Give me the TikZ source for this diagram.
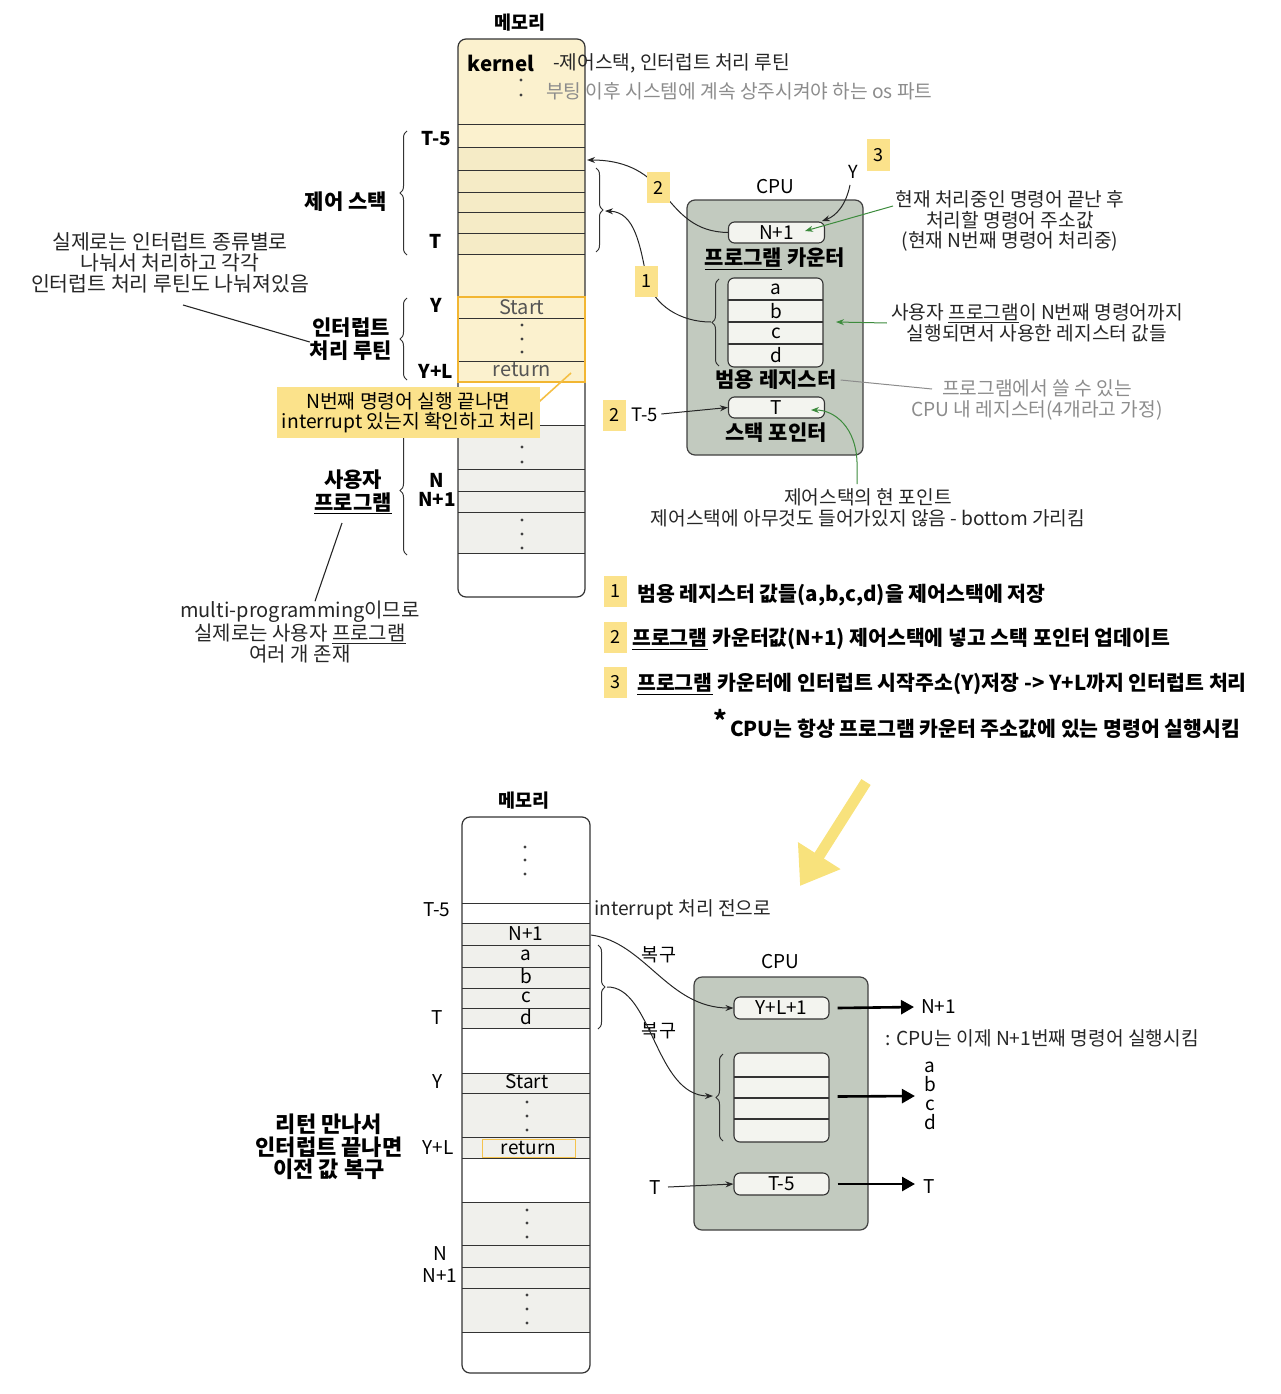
\documentclass[tikz,border=0pt]{standalone}
\usepackage{fontspec}
\setmainfont{Noto Sans CJK KR}
\usetikzlibrary{arrows.meta,decorations.pathreplacing,calc}
\definecolor{kern}{HTML}{FBF1CE}
\definecolor{kstk}{HTML}{F5EBC6}
\definecolor{ugray}{HTML}{F0F0EC}
\definecolor{cpufill}{HTML}{C2CABF}
\definecolor{boxfill}{HTML}{F3F4EF}
\definecolor{ylab}{HTML}{FBE28B}
\definecolor{orng}{HTML}{F2B632}
\definecolor{grn}{HTML}{3C8B3C}
\definecolor{gtxt}{HTML}{8C8C8C}
\definecolor{bigy}{HTML}{F8E27C}
\definecolor{dtxt}{HTML}{555555}
\begin{document}
\begin{tikzpicture}[x=1pt,y=-1pt,
  every node/.style={inner sep=0pt},
  lab/.style={font=\fontsize{19}{21}\selectfont\bfseries},
  lbl/.style={font=\fontsize{19}{21}\selectfont},
  head/.style={font=\fontsize{21}{23}\selectfont\bfseries, align=center},
  ann/.style={font=\fontsize{19.2}{20.8}\selectfont, align=center, text=black!85},
  gann/.style={ann, text=gtxt},
  stp/.style={font=\fontsize{20.5}{22}\selectfont\bfseries, anchor=west},
  numbox/.style={fill=ylab, minimum width=23pt, minimum height=31pt, font=\fontsize{18}{20}\selectfont},
  regbox/.style={draw=black!80, line width=1.1pt, fill=boxfill, rounded corners=6pt, minimum width=96pt, minimum height=21pt, font=\fontsize{19}{21}\selectfont},
  cpubox/.style={draw=black!75, line width=1.2pt, fill=cpufill, rounded corners=8pt},
  arr/.style={-{Stealth[length=8pt,width=6pt]}, line width=1pt, black!85},
  garr/.style={-{Stealth[length=8pt,width=6pt]}, line width=1pt, grn},
  fat/.style={-{Triangle[length=13pt,width=14pt]}, line width=2.6pt},
  brc/.style={decorate, decoration={brace, amplitude=7pt}, line width=1pt, black!80},
  mline/.style={line width=1pt, black!80},
  dot/.style={circle, fill=black!75, minimum size=3.4pt},
]
\useasboundingbox (0,0) rectangle (1280,1394);

%================ TOP MEMORY =================
\node[font=\fontsize{18.5}{20}\selectfont\bfseries] (mem1) at (520,23) {메모리};
\begin{scope}
\clip[rounded corners=8pt] (458,39) rectangle (585,597);
\fill[kern] (458,39) rectangle (585,382);
\fill[kstk] (458,147) rectangle (585,254);
\fill[ugray] (458,425) rectangle (585,553);
\end{scope}
\foreach \yy in {125,147,170,192,212,233,254,318,361,425,469,491,512,553}
  \draw[mline] (458,\yy) -- (585,\yy);
\draw[line width=1.2pt, black!80, rounded corners=8pt] (458,39) rectangle (585,597);
\draw[orng, line width=1.4pt] (458,297) rectangle (585,382);

\node[font=\fontsize{20.5}{23}\selectfont\bfseries] (kernel) at (501,63) {kernel};
\node[dot] (kd1) at (521,80) {};
\node[dot] (kd2) at (521,95) {};
\node[font=\fontsize{20}{22}\selectfont, text=dtxt] (start1) at (522,307) {Start};
\node[font=\fontsize{20}{22}\selectfont, text=dtxt] (ret1) at (522,370) {return};
\foreach \yy [count=\i] in {325,339,352} \node[dot] (id\i) at (522,\yy) {};
\foreach \yy [count=\i] in {433,447,462} \node[dot] (ud\i) at (522,\yy) {};
\foreach \yy [count=\i] in {520,534,548} \node[dot] (vd\i) at (522,\yy) {};

\node[lab] (lt5) at (436,139) {T-5};
\node[lab] (lt) at (436,241) {T};
\node[lab] (ly) at (436,305) {Y};
\node[lab] (lyl) at (436,371) {Y+L};
\node[lab] (ln) at (437,480) {N};
\node[lab] (ln1) at (437,499) {N+1};

\draw[brc] (407,255) -- (407,131);
\draw[brc] (407,380) -- (407,298);
\draw[brc] (407,555) -- (407,426);
\node[head] (cstack) at (346,202) {제어 스택};
\node[head] (isr) at (351,339) {인터럽트\\처리 루틴};
\node[head] (uprog) at (353,492) {사용자\\\underline{프로그램}};

\draw[brc] (596,168) -- (596,252);
\coordinate (stkbr) at (605,211);
\coordinate (stktop) at (587,160);

% kernel notes
\node[ann, anchor=west] (kn1) at (553,63) {-제어스택, 인터럽트 처리 루틴};
\node[gann, anchor=west] (kn2) at (546,91) {부팅 이후 시스템에 계속 상주시켜야 하는 os 파트};

% left notes
\node[ann, font=\fontsize{20.5}{21}\selectfont] (lnote) at (170,263) {실제로는 인터럽트 종류별로\\나눠서 처리하고 각각\\인터럽트 처리 루틴도 나눠져있음};
\coordinate (lnoteend) at (183,305);
\draw[line width=1.1pt, black!85] (lnoteend) -- (isr.west |- 0,342) ;
\node[ann, font=\fontsize{20}{20.5}\selectfont] (mnote) at (300,632) {multi-programming이므로\\실제로는 사용자 \underline{프로그램}\\여러 개 존재};
\coordinate (mtop) at (342,523);
\draw[line width=1.1pt, black!85] (mtop) -- (mnote.north -| 315,0);

% callout
\coordinate (calltip) at (571,373);
\draw[orng!80!ylab, line width=1.6pt] (530,410) -- (calltip);
\node[fill=ylab, minimum width=263pt, minimum height=51pt, align=center, font=\fontsize{19.3}{20}\selectfont] (call) at (408.5,412.5) {N번째 명령어 실행 끝나면\\interrupt 있는지 확인하고 처리};

%================ TOP CPU =================
\node[font=\fontsize{19}{21}\selectfont] (cpu1lab) at (775,187) {CPU};
\node[cpubox, minimum width=176pt, minimum height=255pt] (cpu1) at (775,327.5) {};
\node[regbox] (pc) at (776.5,232.5) {N+1};
\node[head] (pclab) at (775,259) {\underline{프로그램} 카운터};
\node[draw=black!80, line width=1.1pt, fill=boxfill, rounded corners=6pt, minimum width=95pt, minimum height=89pt] (regs) at (775.5,322.5) {};
\foreach \yy in {300,322,344} \draw[line width=1.1pt, black!80] (728,\yy) -- (823,\yy);
\foreach \t/\yy in {a/289,b/311,c/333,d/355} \node[font=\fontsize{19}{21}\selectfont] (r\t) at (776,\yy) {\t};
\node[head] (reglab) at (776,380) {범용 레지스터};
\node[regbox] (sp) at (776.5,407.5) {T};
\node[head] (splab) at (776,433) {스택 포인터};
\draw[brc] (719,366) -- (719,279);
\coordinate (regbr) at (711,322);

% connectors top
\draw[arr] (pc.west) .. controls (695,232) and (680,214) .. (662,192) .. controls (645,170) and (622,160) .. (stktop);
\draw[arr] (regbr) .. controls (680,322) and (654,305) .. (647,280) .. controls (640,245) and (635,212) .. (stkbr);
\node[numbox] (n2a) at (658.5,187.5) {2};
\node[numbox] (n1a) at (646.5,281) {1};

\node[font=\fontsize{18}{20}\selectfont] (ylab) at (853,172) {Y};
\node[numbox] (n3a) at (878,155) {3};
\coordinate (pcne) at (822,221);
\draw[arr] (850,185) .. controls (846,205) and (836,216) .. (pcne);

\node[numbox] (n2b) at (614,415) {2};
\node[lbl, font=\fontsize{18.5}{20}\selectfont] (t5in) at (645,415) {T-5};
\draw[arr] (t5in.east) ++(3,-1) -- (sp.west);

% right annotations
\node[ann] (apc) at (1010,221) {현재 처리중인 명령어 끝난 후\\처리할 명령어 주소값\\(현재 N번째 명령어 처리중)};
\coordinate (pcin) at (805,231);
\draw[garr] (893,206) -- (pcin);
\node[ann] (areg) at (1037,323) {사용자 \underline{프로그램}이 N번째 명령어까지\\실행되면서 사용한 레지스터 값들};
\coordinate (regin) at (836,322);
\draw[garr] (areg.west) ++(-4,0) -- (regin);
\node[gann] (agen) at (1037,400) {프로그램에서 쓸 수 있는\\CPU 내 레지스터(4개라고 가정)};
\draw[line width=1pt, gtxt] (reglab.east) ++(4,0) -- (932,389);
\node[ann] (asp) at (868,508) {제어스택의 현 포인트\\제어스택에 아무것도 들어가있지 않음 - bottom 가리킴};
\coordinate (spin) at (811,410);
\draw[garr] (857,484) -- (857,462) .. controls (856,428) and (835,410) .. (spin);

%================ STEPS =================
\node[numbox] (s1) at (615,591) {1};
\node[stp] (s1t) at (637,595) {범용 레지스터 값들(a,b,c,d)을 제어스택에 저장};
\node[numbox] (s2) at (615,637) {2};
\node[stp] (s2t) at (632,639) {\underline{프로그램} 카운터값(N+1) 제어스택에 넣고 스택 포인터 업데이트};
\node[numbox] (s3) at (615,682) {3};
\node[stp] (s3t) at (637,684) {\underline{프로그램} 카운터에 인터럽트 시작주소(Y)저장 -> Y+L까지 인터럽트 처리};
\node[font=\fontsize{26}{26}\selectfont\bfseries] (star) at (720,720) {*};
\node[stp] (s4t) at (730,729) {CPU는 항상 프로그램 카운터 주소값에 있는 명령어 실행시킴};

% big yellow arrow
\coordinate (ya1) at (866,782);
\coordinate (ya2) at (800,886);
\draw[bigy, line width=11pt, -{Triangle[length=36pt,width=48pt]}] (ya1) -- (ya2);

%================ BOTTOM MEMORY =================
\node[font=\fontsize{18.5}{20}\selectfont\bfseries] (mem2) at (524,801) {메모리};
\begin{scope}
\clip[rounded corners=8pt] (462,817) rectangle (590,1373);
\fill[ugray] (462,923) rectangle (590,1028);
\fill[ugray] (462,1073) rectangle (590,1158);
\fill[ugray] (462,1202) rectangle (590,1332);
\end{scope}
\foreach \yy in {903,923,945,967,988,1008,1028,1073,1093,1137,1158,1202,1245,1267,1288,1332}
  \draw[mline] (462,\yy) -- (590,\yy);
\draw[line width=1.2pt, black!80, rounded corners=8pt] (462,817) rectangle (590,1373);
\foreach \yy [count=\i] in {847,860,874} \node[dot] (bd\i) at (525,\yy) {};
\foreach \t/\yy in {N+1/934,a/955,b/976,c/997,d/1017} \node[lbl] at (526,\yy) {\t};
\node[lbl] (start2) at (527,1082) {Start};
\node[draw=orng!70!ylab, line width=1pt, minimum width=93pt, minimum height=18pt, font=\fontsize{19}{21}\selectfont] (ret2) at (528.5,1148) {return};
\foreach \yy [count=\i] in {1102,1116,1130} \node[dot] (be\i) at (527,\yy) {};
\foreach \yy [count=\i] in {1210,1223,1237} \node[dot] (bf\i) at (527,\yy) {};
\foreach \yy [count=\i] in {1295,1309,1323} \node[dot] (bg\i) at (527,\yy) {};

\node[lbl] (bt5) at (437,910) {T-5};
\node[lbl] (bt) at (437,1018) {T};
\node[lbl] (by) at (438,1082) {Y};
\node[lbl] (byl) at (438,1148) {Y+L};
\node[lbl] (bn) at (440,1254) {N};
\node[lbl] (bn1) at (440,1276) {N+1};

\node[ann, anchor=west] (irq) at (594,910) {interrupt 처리 전으로};
\draw[brc] (598,945) -- (598,1029);
\coordinate (b2br) at (607,987);
\coordinate (bnp1) at (591,935);

\node[head, font=\fontsize{22}{22.5}\selectfont\bfseries] (retnote) at (329,1147) {리턴 만나서\\인터럽트 끝나면\\이전 값 복구};

%================ BOTTOM CPU =================
\node[font=\fontsize{19}{21}\selectfont] (cpu2lab) at (780,962) {CPU};
\node[cpubox, minimum width=174pt, minimum height=253pt] (cpu2) at (781,1103.5) {};
\node[regbox, minimum width=95pt, minimum height=22pt] (pc2) at (781.5,1008) {Y+L+1};
\node[draw=black!80, line width=1.1pt, fill=boxfill, rounded corners=6pt, minimum width=95pt, minimum height=89pt] (regs2) at (781.5,1097.5) {};
\foreach \yy in {1077,1098,1119} \draw[line width=1.1pt, black!80] (734,\yy) -- (829,\yy);
\node[regbox, minimum width=95pt, minimum height=22pt] (sp2) at (781.5,1184) {T-5};
\draw[brc] (723,1141) -- (723,1054);
\coordinate (rb2) at (713,1096);

\node[font=\fontsize{18.5}{20}\selectfont] (bk1) at (659,955) {복구};
\node[font=\fontsize{18.5}{20}\selectfont] (bk2) at (659,1031) {복구};
\draw[arr] (bnp1) .. controls (645,942) and (668,1008) .. (pc2.west);
\draw[arr] (b2br) .. controls (652,986) and (655,1096) .. (rb2);

\node[lbl, anchor=west] (on1) at (921,1007) {N+1};
\node[lbl, align=center, font=\fontsize{19}{19}\selectfont] (oabcd) at (930,1096) {a\\b\\c\\d};
\node[lbl, anchor=west] (ot) at (923,1187) {T};
\draw[fat] ($(pc2.east)+(8,0)$) -- ($(on1.west)+(-7,0)$);
\draw[fat] ($(regs2.east)+(8,-1)$) -- ($(oabcd.west)+(-9,0)$);
\draw[fat] ($(sp2.east)+(8,0)$) -- ($(ot.west)+(-8,-3)$);
\node[ann, anchor=west] (cpunow) at (885,1038) {: CPU는 이제 N+1번째 명령어 실행시킴};

\node[lbl] (tin) at (655,1188) {T};
\draw[arr] (668,1187) -- (sp2.west);

\end{tikzpicture}
\end{document}
